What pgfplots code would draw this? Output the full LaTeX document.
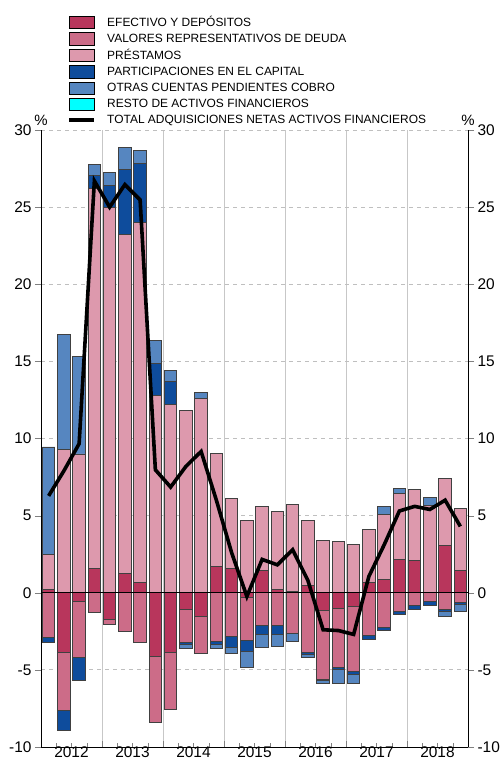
\documentclass[border=0pt]{standalone}
\usepackage{fontspec}
\setmainfont{Liberation Sans}
\usepackage{pgfplots}
\usepackage{pgfplotstable}
\pgfplotsset{compat=1.18}
\definecolor{cEf}{RGB}{184,54,92}
\definecolor{cVal}{RGB}{204,108,136}
\definecolor{cPre}{RGB}{221,153,173}
\definecolor{cPart}{RGB}{14,76,156}
\definecolor{cOtr}{RGB}{86,134,192}
\definecolor{cRes}{RGB}{0,255,255}

\pgfplotstableread{
x ef val pre part otr
0.5 0.23 0 2.27 0 6.95
1.5 0 0 9.27 0 7.50
2.5 0 0 9.00 0 6.34
3.5 1.59 0 24.64 0.80 0.75
4.5 0 0 25.00 1.40 0.85
5.5 1.28 0 21.97 4.20 1.40
6.5 0.68 0 23.30 3.88 0.79
7.5 0 0 12.81 2.05 1.49
8.5 0 0 12.18 1.52 0.71
9.5 0 0 11.80 0 0
10.5 0 0 12.60 0 0.38
11.5 1.71 0 7.30 0 0
12.5 1.60 0 4.54 0 0
13.5 0 0 4.69 0 0
14.5 1.47 0 4.12 0 0
15.5 0.19 0 5.08 0 0
16.5 0.09 0 5.61 0 0
17.5 0.46 0 4.20 0 0
18.5 0 0 3.40 0 0
19.5 0 0 3.33 0 0
20.5 0 0 3.11 0 0
21.5 0.67 0 3.41 0 0
22.5 0.84 0 4.26 0 0.49
23.5 2.14 0 4.32 0 0.28
24.5 2.07 0 4.61 0 0
25.5 0 0 5.64 0 0.54
26.5 3.05 0 4.34 0 0
27.5 1.45 0 3.99 0 0
}\postab

\pgfplotstableread{
x ef val part otr
0.5 0 -2.92 -0.31 0
1.5 -3.88 -3.72 -1.30 0
2.5 -0.57 -3.65 -1.48 0
3.5 0 -1.28 0 0
4.5 -1.74 -0.32 0 0
5.5 0 -2.53 0 0
6.5 0 -3.23 0 0
7.5 -4.13 -4.27 0 0
8.5 -3.87 -3.67 0 0
9.5 -1.06 -2.16 -0.10 -0.30
10.5 -1.53 -2.38 0 0
11.5 0 -3.15 -0.22 -0.26
12.5 0 -2.83 -0.69 -0.43
13.5 -0.30 -2.79 -0.71 -1.04
14.5 0 -2.12 -0.60 -0.82
15.5 0 -2.10 -0.58 -0.80
16.5 0 -2.61 -0.05 -0.50
17.5 0 -3.87 -0.10 -0.20
18.5 -1.17 -4.43 -0.10 -0.20
19.5 -1.04 -3.80 -0.15 -0.90
20.5 -0.89 -4.21 -0.21 -0.54
21.5 0 -2.79 -0.21 0
22.5 0 -2.25 -0.21 0
23.5 0 -1.21 -0.22 0
24.5 0 -0.82 -0.24 0
25.5 0 -0.55 -0.30 0
26.5 0 -1.06 -0.15 -0.32
27.5 0 -0.60 -0.13 -0.48
}\negtab

\pgfplotstableread{
x tot
0.5 6.28
1.5 7.90
2.5 9.66
3.5 26.70
4.5 25.00
5.5 26.46
6.5 25.47
7.5 7.97
8.5 6.85
9.5 8.19
10.5 9.16
11.5 6.00
12.5 2.60
13.5 -0.24
14.5 2.16
15.5 1.81
16.5 2.79
17.5 0.80
18.5 -2.40
19.5 -2.45
20.5 -2.70
21.5 1.06
22.5 3.10
23.5 5.30
24.5 5.60
25.5 5.40
26.5 6.00
27.5 4.30
}\tottab

\pgfplotsset{
  common/.style={
    width=427bp, height=617bp, scale only axis,
    xmin=0, xmax=28, ymin=-10, ymax=30,
    at={(0,0)}, anchor=south west,
    axis line style={black, line width=0.9bp},
    ytick={-10,-5,...,30},
    tick label style={font=\fontsize{15.5}{18}\selectfont},
    /pgf/number format/assume math mode=true,
  },
  barsty/.style={draw=black!75, line width=0.8bp},
}

\begin{document}
\begin{tikzpicture}
% Axis A: grids, x ticks, legend, positive bars
\begin{axis}[common,
  ybar stacked, bar width=0.82,
  axis x line*=bottom, axis y line*=box,
  tick align=inside,
  xtick={0,4,...,28}, xticklabels={},
  minor x tick num=3,
  major tick length=6bp, minor tick length=4bp,
  xmajorgrids, ymajorgrids,
  x grid style={solid, color=black!22, line width=0.9bp},
  y grid style={dash pattern=on 4bp off 4bp, color=black!25, line width=0.8bp},
  yticklabels={}, y tick style={draw=none},
  extra x ticks={2,6,...,26},
  extra x tick labels={2012,2013,2014,2015,2016,2017,2018},
  extra x tick style={grid=none, major tick length=0pt, tick label style={yshift=3.5bp}},
  legend cell align=left,
  legend image code/.code={\draw[#1, draw=black, line width=0.8bp] (0bp,-6.3bp) rectangle (25bp,6.3bp); \path[draw=none, fill=none] (0bp,0bp) -- (36bp,0bp);},
  legend style={at={(0.061,1.186)}, anchor=north west, draw=none, fill=none,
    inner sep=0pt, row sep=2.9bp, font=\fontsize{12}{14}\selectfont,
    nodes={inner ysep=1bp}},
]
\addplot[fill=cEf, barsty] table[x=x, y=ef] {\postab};
\addlegendentry{EFECTIVO Y DEPÓSITOS}
\addplot[fill=cVal, barsty] table[x=x, y=val] {\postab};
\addlegendentry{VALORES REPRESENTATIVOS DE DEUDA}
\addplot[fill=cPre, barsty] table[x=x, y=pre] {\postab};
\addlegendentry{PRÉSTAMOS}
\addplot[fill=cPart, barsty] table[x=x, y=part] {\postab};
\addlegendentry{PARTICIPACIONES EN EL CAPITAL}
\addplot[fill=cOtr, barsty] table[x=x, y=otr] {\postab};
\addlegendentry{OTRAS CUENTAS PENDIENTES COBRO}
\addlegendimage{fill=cRes}
\addlegendentry{RESTO DE ACTIVOS FINANCIEROS}
\addlegendimage{legend image code/.code={\draw[black, line width=4bp] (0bp,0bp) -- (25bp,0bp); \path[draw=none, fill=none] (0bp,0bp) -- (36bp,0bp);}}
\addlegendentry{TOTAL ADQUISICIONES NETAS ACTIVOS FINANCIEROS}
\end{axis}

% Axis B: negative bars, right tick labels
\begin{axis}[common,
  ybar stacked, bar width=0.82,
  axis x line=none, axis y line*=right,
  tick align=outside, major tick length=6bp,
  ylabel={\%},
  ylabel style={at={(axis description cs:1,1)}, rotate=-90, anchor=south, yshift=1bp, font=\fontsize{15}{18}\selectfont},
]
\addplot[fill=cEf, barsty] table[x=x, y=ef] {\negtab};
\addplot[fill=cVal, barsty] table[x=x, y=val] {\negtab};
\addplot[fill=cPart, barsty] table[x=x, y=part] {\negtab};
\addplot[fill=cOtr, barsty] table[x=x, y=otr] {\negtab};
\end{axis}

% Axis C: zero line, total line, left tick labels
\begin{axis}[common,
  axis x line=none, axis y line*=left,
  tick align=outside, major tick length=6bp,
  ylabel={\%},
  ylabel style={at={(axis description cs:0,1)}, rotate=-90, anchor=south, yshift=1bp, font=\fontsize{15}{18}\selectfont},
]
\draw[black, line width=1bp] (axis cs:0,0) -- (axis cs:28,0);
\addplot[black, line width=3.6bp, line join=miter, mark=none] table[x=x, y=tot] {\tottab};
\end{axis}

\pgfresetboundingbox
\useasboundingbox (-41bp,-15bp) rectangle (461bp,747bp);
\end{tikzpicture}
\end{document}
